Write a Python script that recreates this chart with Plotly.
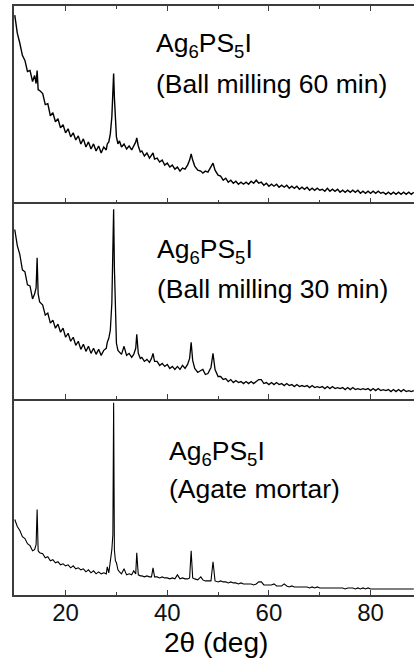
import plotly.graph_objects as go

# 2-theta grid (deg), shared by the three patterns
two_theta = [
    10.0, 10.5, 11.0, 11.5, 12.0, 12.5, 13.0, 13.5, 13.9, 14.2, 14.4, 14.6, 14.9,
    15.5, 16.0, 16.5, 17.0, 17.5, 18.0, 18.5, 19.0, 19.5, 20.0, 20.5, 21.0, 21.5,
    22.0, 22.5, 23.0, 23.5, 24.0, 24.5, 25.0, 25.5, 26.0, 26.5, 27.0, 27.5, 28.0,
    28.2, 28.5, 28.8, 29.1, 29.3, 29.45, 29.6, 29.8, 30.0, 30.3, 30.6,
    31.0, 31.5, 32.0, 32.5, 33.0, 33.4, 33.8, 34.0, 34.3, 34.7, 35.0, 35.5, 36.0,
    36.5, 36.9, 37.2, 37.5, 38.0, 38.5, 39.0, 39.5, 40.0, 40.5, 41.0, 41.5, 42.0,
    42.5, 43.0, 43.5, 44.0, 44.4,
    44.7, 45.0, 45.4, 46.0, 46.6, 47.0, 47.5, 48.0, 48.6, 49.0, 49.4, 50.0,
    50.5, 51.0, 51.5, 52.0, 52.5, 53.0, 53.5, 54.0, 54.5, 55.0,
    55.5, 56.0, 56.5, 57.0, 57.5, 58.0, 58.5, 59.0, 59.5, 60.0,
    60.5, 61.0, 61.5, 62.0, 62.5, 63.0, 63.5, 64.0, 64.5, 65.0,
    65.5, 66.0, 66.5, 67.0, 67.5, 68.0, 68.5, 69.0, 69.5, 70.0,
    70.5, 71.0, 71.5, 72.0, 72.5, 73.0, 73.5, 74.0, 74.5, 75.0,
    75.5, 76.0, 76.5, 77.0, 77.5, 78.0, 78.5, 79.0, 79.5, 80.0,
    80.5, 81.0, 81.5, 82.0, 82.5, 83.0, 83.5, 84.0, 84.5, 85.0,
    85.5, 86.0, 86.5, 87.0, 87.5, 88.0, 88.5,
]

# Intensity (a.u.), ball milling 60 min (top panel)
ball_60 = [
    186, 168, 158, 146, 141, 130, 131, 120, 126, 118, 131, 112, 111,
    108, 97, 98, 86, 89, 80, 83, 74, 77, 69, 73, 65, 69,
    62, 66, 58, 63, 55, 60, 53, 58, 51, 56, 49, 55, 52,
    58, 60, 68, 85, 105, 128, 104, 80, 65, 58, 61,
    55, 58, 53, 56, 52, 56, 60, 64, 56, 50, 51, 46, 49,
    44, 47, 49, 43, 44, 40, 42, 37, 39, 35, 37, 33, 35,
    31, 34, 33, 37, 42,
    48, 42, 36, 32, 31, 29, 31, 30, 35, 39, 32, 27,
    26, 22, 24, 20, 22, 19, 21, 18, 20, 18,
    20, 18, 21, 19, 22, 19, 20, 17, 19, 16,
    18, 16, 18, 15, 17, 15, 17, 14, 16, 14,
    16, 13, 15, 13, 15, 12, 14, 12, 14, 12,
    13, 11, 14, 11, 13, 11, 13, 10, 12, 10,
    12, 10, 12, 10, 12, 9, 11, 9, 11, 9,
    11, 9, 11, 9, 10, 8, 10, 8, 10, 8,
    10, 8, 10, 8, 10, 8, 10,
]

# Intensity (a.u.), ball milling 30 min (middle panel)
ball_30 = [
    168, 152, 143, 128, 126, 113, 112, 99, 104, 110, 140, 104, 96,
    93, 83, 85, 75, 78, 70, 74, 66, 70, 61, 65, 57, 61,
    53, 57, 49, 54, 47, 52, 45, 50, 44, 49, 43, 48, 50,
    56, 60, 68, 95, 150, 188, 130, 80, 55, 48, 46,
    44, 52, 43, 45, 41, 44, 50, 64, 45, 40, 41, 37, 39,
    36, 40, 45, 37, 37, 33, 35, 32, 34, 30, 32, 29, 32,
    29, 33, 30, 34, 40,
    56, 38, 30, 26, 28, 29, 24, 25, 31, 45, 29, 22,
    22, 19, 20, 17, 19, 16, 18, 16, 17, 15,
    17, 15, 17, 15, 17, 19, 19, 15, 16, 14,
    16, 14, 16, 14, 15, 13, 15, 13, 14, 12,
    14, 12, 13, 12, 13, 11, 13, 11, 12, 11,
    12, 10, 12, 10, 12, 10, 11, 10, 11, 9,
    11, 9, 11, 9, 10, 9, 10, 9, 10, 8,
    10, 8, 10, 8, 9, 8, 9, 7, 9, 7,
    9, 7, 9, 7, 8, 7, 8,
]

# Intensity (a.u.), agate mortar (bottom panel)
agate = [
    75, 68, 64, 58, 56, 51, 49, 44, 45, 50, 85, 44, 42,
    41, 37, 38, 34, 35, 32, 33, 30, 31, 29, 30, 27, 29,
    26, 27, 25, 26, 23, 25, 22, 24, 21, 23, 21, 22, 21,
    28, 22, 33, 45, 60, 191, 45, 34, 32, 25, 23,
    21, 26, 20, 21, 20, 24, 21, 42, 20, 19, 19, 18, 19,
    18, 18, 27, 18, 18, 17, 18, 17, 17, 16, 17, 16, 20,
    16, 17, 16, 16, 17,
    44, 17, 16, 15, 18, 15, 14, 14, 14, 33, 14, 13,
    14, 13, 13, 12, 13, 12, 12, 11, 12, 11,
    11, 11, 11, 10, 11, 13, 13, 10, 10, 10,
    10, 11, 9, 9, 9, 11, 9, 8, 9, 8,
    8, 8, 8, 8, 8, 7, 8, 7, 8, 7,
    7, 7, 7, 7, 7, 7, 7, 7, 7, 6,
    7, 7, 7, 6, 7, 6, 7, 6, 7, 6,
    6, 6, 6, 6, 6, 6, 6, 6, 6, 6,
    6, 6, 6, 6, 6, 6, 6,
]

panel_labels = [
    ("Ag<sub>6</sub>PS<sub>5</sub>I", "(Ball milling 60 min)"),
    ("Ag<sub>6</sub>PS<sub>5</sub>I", "(Ball milling 30 min)"),
    ("Ag<sub>6</sub>PS<sub>5</sub>I", "(Agate mortar)"),
]
x_ticks = [20, 40, 60, 80]
x_title = "2θ (deg)"

FONT = "Liberation Sans, Arial, sans-serif"
AXC = "#3c3c3c"

fig = go.Figure()
series = [ball_60, ball_30, agate]
axes = [("x3", "y3"), ("x2", "y2"), ("x", "y")]
widths = [1.4, 1.3, 1.1]
for ys, (xa, ya), w in zip(series, axes, widths):
    fig.add_trace(go.Scatter(x=two_theta, y=ys, mode="lines", xaxis=xa, yaxis=ya,
                             line=dict(color="black", width=w), showlegend=False,
                             hoverinfo="skip"))

xr = [9.85, 88.54]
def xax(labels, mirror, anchor):
    return dict(range=xr, tickvals=x_ticks, ticks="inside", ticklen=5, tickwidth=1.3,
                tickcolor=AXC, showline=True, linecolor=AXC, linewidth=1.5,
                mirror=mirror, showgrid=False, zeroline=False, anchor=anchor,
                showticklabels=labels, tickfont=dict(family=FONT, size=24, color="#111"),
                ticklabelstandoff=-5,
                minor=dict(dtick=10, tick0=10, ticks="inside", ticklen=3,
                           tickcolor=AXC, tickwidth=1.3, showgrid=False))

def yax(dom):
    return dict(domain=dom, range=[0, 195], showline=True, linecolor=AXC, linewidth=1.5,
                ticks="", showticklabels=False, showgrid=False, zeroline=False,
                mirror=False)

fig.update_layout(
    width=414, height=659,
    margin=dict(l=14, r=0, t=6, b=64),
    paper_bgcolor="white", plot_bgcolor="white",
    xaxis=xax(True, False, "y"),
    xaxis2=xax(False, False, "y2"),
    xaxis3=xax(False, "ticks", "y3"),
    yaxis=yax([0, 1/3]),
    yaxis2=yax([1/3, 2/3]),
    yaxis3=yax([2/3, 1]),
)

H = 589.0
def py(pix):
    return (595 - pix) / H
def px(pix):
    return (pix - 14) / 400.0

label_pos = [
    ((154, 45), (154, 84)),
    ((155, 251), (155, 289)),
    ((167, 453), (167, 489)),
]
for (l1, l2), ((x1, y1), (x2, y2)) in zip(panel_labels, label_pos):
    fig.add_annotation(text=l1, xref="paper", yref="paper", x=px(x1), y=py(y1),
                       xanchor="left", yanchor="middle", showarrow=False,
                       font=dict(family=FONT, size=26.5, color="black"))
    fig.add_annotation(text=l2, xref="paper", yref="paper", x=px(x2), y=py(y2),
                       xanchor="left", yanchor="middle", showarrow=False,
                       font=dict(family=FONT, size=26.5, color="black"))

fig.add_annotation(text=x_title, xref="paper", yref="paper", x=px(216), y=py(642),
                   xanchor="center", yanchor="middle", showarrow=False,
                   font=dict(family=FONT, size=28, color="black"))

fig.write_html("out.html", config={"displayModeBar": False},
               post_script="document.body.style.margin='0px';"
                           "document.body.style.overflow='hidden';")
